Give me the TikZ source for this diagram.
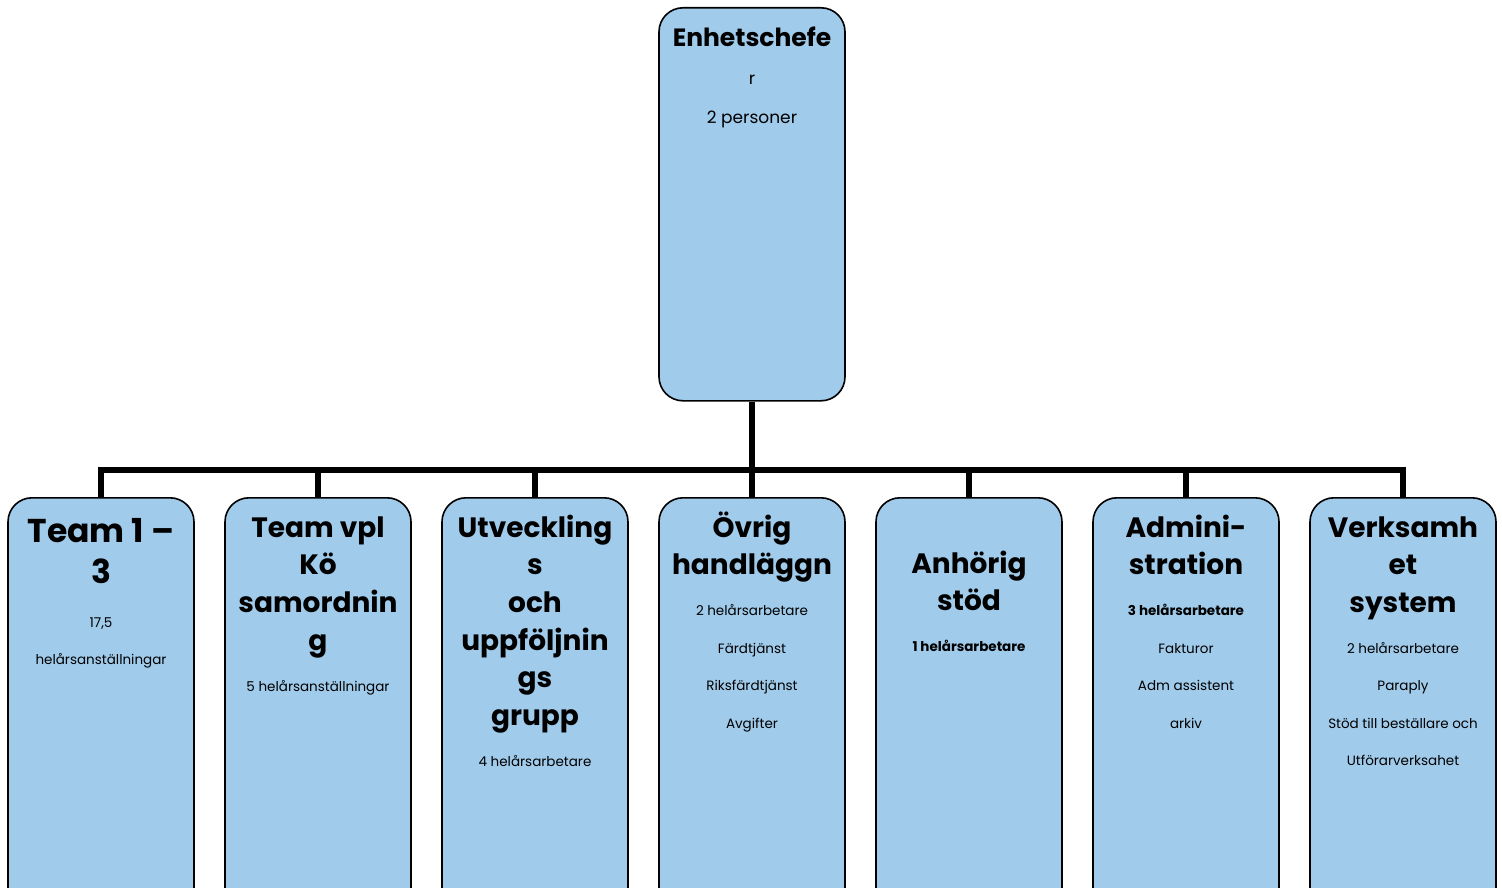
\documentclass[tikz,border=0pt]{standalone}
\usepackage{fontspec}
\setmainfont{Poppins}
\usepackage{tikz}
\usetikzlibrary{positioning}
\definecolor{unitblue}{HTML}{A0CBEB}
\newcommand{\unithead}{\bfseries\fontsize{28}{37.6}\selectfont}
\newcommand{\unitinfo}{\mdseries\fontsize{13.5}{37.5}\selectfont}
\newcommand{\toprule}{\rule{0pt}{30pt}}

\begin{document}
\begin{tikzpicture}[
  x=1pt, y=1pt,
  box/.style={draw, fill=unitblue, rounded corners=24pt, line width=1.6pt, minimum width=186pt, minimum height=420pt, anchor=north, inner sep=0pt},
  txt/.style={text width=182pt, align=flush center, inner sep=0pt, execute at begin node=\setlength{\parindent}{0pt}},
  link/.style={line width=5.5pt}]

\useasboundingbox (0,0) rectangle (1502,-888);
\clip (0,0) rectangle (1502,-888);

% top box
\node[box, minimum height=393pt] (chef) at (752,-7) {};
\node[txt, below=9pt of chef.north] (cheft) {{\bfseries\fontsize{25}{37}\selectfont\toprule Enhetschefe\par}\fontsize{17}{38.5}\selectfont r\\2 personer\par};

% units
\node[box] (team) at (101,-497) {};
\node[box] (vpl) at (318,-497) {};
\node[box] (utv) at (535,-497) {};
\node[box] (ovr) at (752,-497) {};
\node[box] (anh) at (969,-497) {};
\node[box] (adm) at (1186,-497) {};
\node[box] (verk) at (1403,-497) {};

\node[txt, below=15pt of team.north] (teamt) {{\bfseries\fontsize{33}{41}\selectfont\toprule Team 1 --\\3\par}\vspace{6.5pt}\unitinfo 17,5\\helårsanställningar\par};
\node[txt, below=10pt of vpl.north] (vplt) {{\unithead\toprule Team vpl\\Kö\\samordnin\\g\par}\vspace{3.5pt}\unitinfo 5 helårsanställningar\par};
\node[txt, below=10pt of utv.north] (utvt) {{\unithead\toprule Utveckling\\s\\och\\uppföljnin\\gs\\grupp\par}\vspace{3.5pt}\unitinfo 4 helårsarbetare\par};
\node[txt, below=10pt of ovr.north] (ovrt) {{\unithead\toprule Övrig\\handläggn\par}\vspace{3.5pt}\unitinfo 2 helårsarbetare\\Färdtjänst\\Riksfärdtjänst\\Avgifter\par};
\node[txt, below=46pt of anh.north] (anht) {{\unithead\toprule Anhörig\\stöd\par}\vspace{3.5pt}\unitinfo\bfseries 1 helårsarbetare\par};
\node[txt, below=10pt of adm.north] (admt) {{\unithead\toprule Admini-\\stration\par}\vspace{3.5pt}\unitinfo\textbf{3 helårsarbetare}\\Fakturor\\Adm assistent\\arkiv\par};
\node[txt, below=10pt of verk.north] (verkt) {{\unithead\toprule Verksamh\\et\\system\par}\vspace{3.5pt}\unitinfo 2 helårsarbetare\\Paraply\\Stöd till beställare och\\Utförarverksahet\par};

% connectors
\coordinate (bus) at (752,-470);
\draw[link] (chef.south) -- (bus);
\foreach \u in {team,vpl,utv,ovr,anh,adm,verk}
  \draw[link] (\u.north) |- (bus);
\end{tikzpicture}
\end{document}
